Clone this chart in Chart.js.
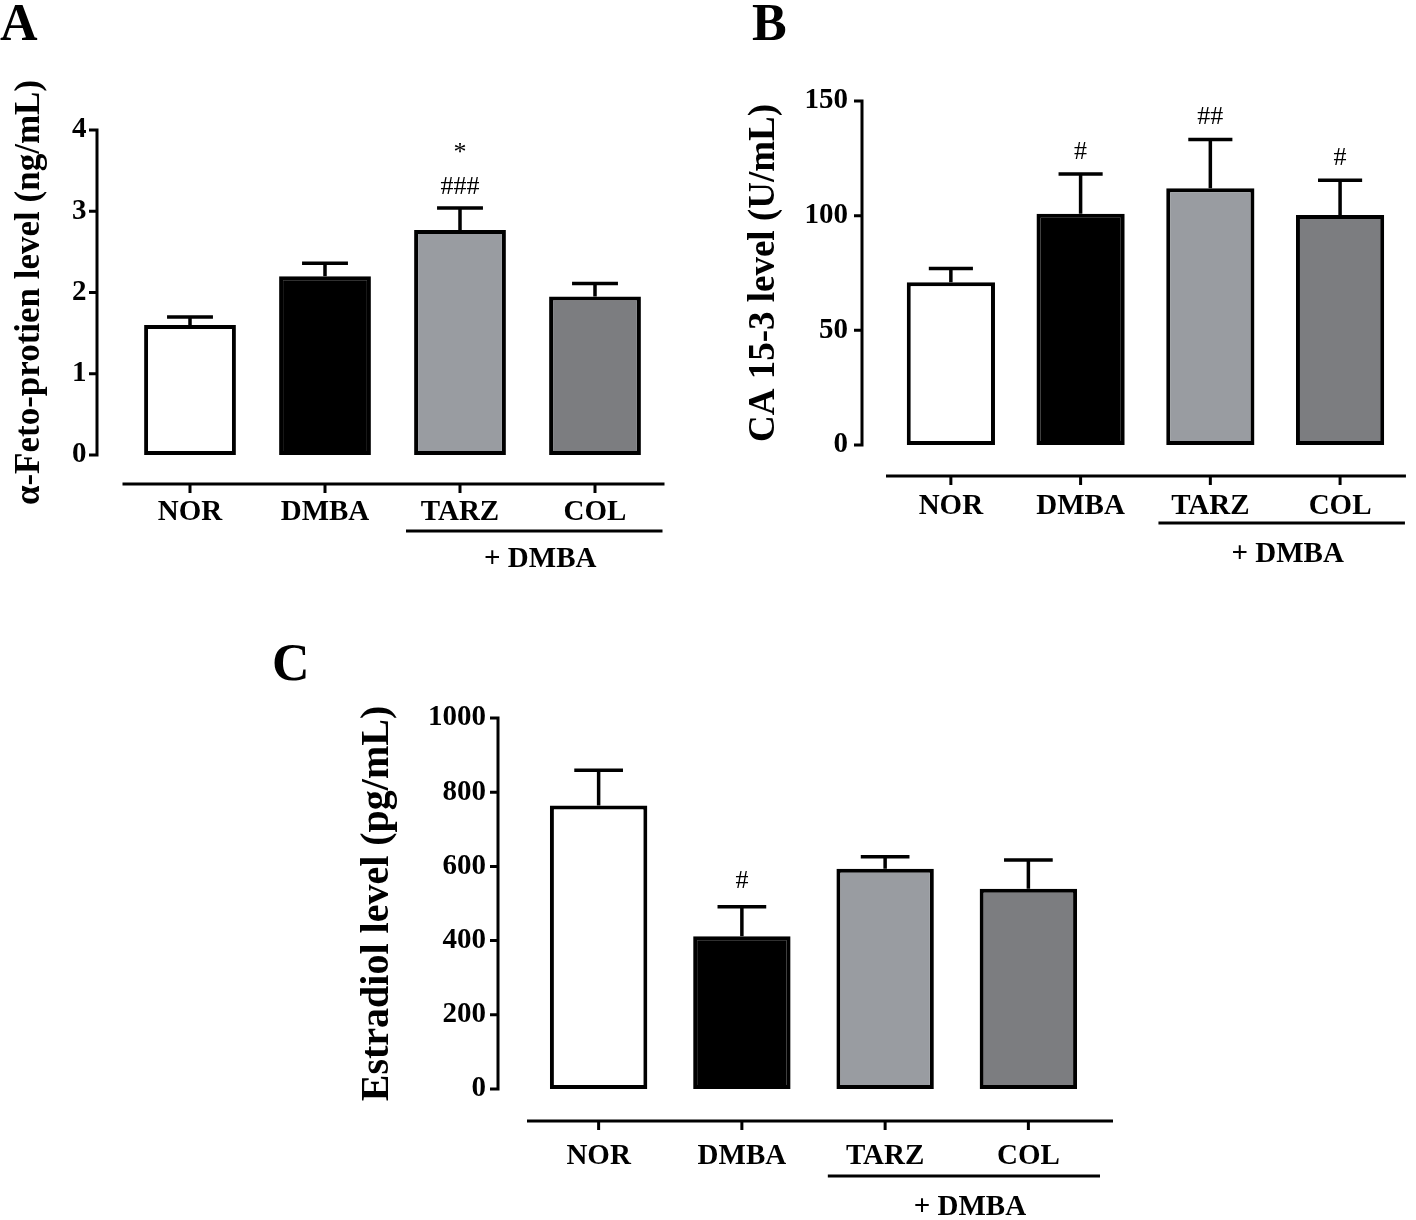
<!DOCTYPE html>
<html>
<head>
<meta charset="utf-8">
<script src="https://cdn.jsdelivr.net/npm/chart.js@4.4.1/dist/chart.umd.min.js"></script>
<style>
  body { margin: 0; background: #fff; }
  canvas { position: absolute; left: 0; top: 0; }
</style>
</head>
<body>
<canvas id="chartA" width="1416" height="1220"></canvas>
<canvas id="chartB" width="1416" height="1220"></canvas>
<canvas id="chartC" width="1416" height="1220"></canvas>
<script>
// groups and bar fills
const groups = ['NOR', 'DMBA', 'TARZ', 'COL'];
const barColors = ['#ffffff', '#000000', '#999ca1', '#7c7d80'];

// A: alpha-fetoprotein (ng/mL), mean and SEM
const afpMean = [1.60, 2.20, 2.77, 1.95];
const afpSem = [0.10, 0.16, 0.27, 0.16];
const afpMarks = [[], [], ['###', '*'], []];

// B: CA 15-3 (U/mL)
const caMean = [71, 100.8, 112, 100.3];
const caSem = [6, 17.4, 21.2, 15.1];
const caMarks = [[], ['#'], ['##'], ['#']];

// C: estradiol (pg/mL)
const e2Mean = [764, 412, 594, 540];
const e2Sem = [95, 79, 32, 77];
const e2Marks = [[], ['#'], [], []];

Chart.defaults.font.family = "'Liberation Serif', 'Times New Roman', serif";
Chart.defaults.color = '#000';

// error bars, offset axes, group underline, markers, panel letter
const deco = {
  id: 'deco',
  afterDatasetsDraw(chart, args, o) {
    const ctx = chart.ctx, y = chart.scales.y;
    const meta = chart.getDatasetMeta(0);
    ctx.save();
    ctx.strokeStyle = '#000';
    ctx.fillStyle = '#000';
    ctx.lineWidth = 3.5;
    meta.data.forEach((bar, i) => {
      const top = y.getPixelForValue(o.mean[i] + o.sem[i]);
      const half = bar.width / 4;
      ctx.beginPath();
      ctx.moveTo(bar.x, bar.y);
      ctx.lineTo(bar.x, top);
      ctx.moveTo(bar.x - half, top);
      ctx.lineTo(bar.x + half, top);
      ctx.stroke();
      ctx.font = '26px "Liberation Serif"';
      ctx.textAlign = 'center';
      ctx.textBaseline = 'middle';
      o.marks[i].forEach((m, k) => ctx.fillText(m, bar.x, top - o.markGap - k * 34));
    });
    ctx.restore();
  },
  afterDraw(chart, args, o) {
    const ctx = chart.ctx, x = chart.scales.x, y = chart.scales.y, a = chart.chartArea;
    ctx.save();
    ctx.strokeStyle = '#000';
    ctx.fillStyle = '#000';
    ctx.lineWidth = 3;
    // y axis, set off to the left
    const ax = a.left - o.yGap;
    ctx.beginPath();
    ctx.moveTo(ax, y.getPixelForValue(y.max) - 1.5);
    ctx.lineTo(ax, y.getPixelForValue(y.min) + 1.5);
    y.ticks.forEach(t => {
      const py = y.getPixelForValue(t.value);
      ctx.moveTo(ax - 8, py);
      ctx.lineTo(ax, py);
    });
    // x axis, set off below
    const ay = a.bottom + o.xGap;
    ctx.moveTo(a.left, ay);
    ctx.lineTo(a.right + o.xExtra, ay);
    groups.forEach((g, i) => {
      const px = x.getPixelForValue(i);
      ctx.moveTo(px, ay);
      ctx.lineTo(px, ay + 9);
    });
    ctx.stroke();
    // "+ DMBA" group
    const band = x.getPixelForValue(1) - x.getPixelForValue(0);
    const ux0 = x.getPixelForValue(2) - 0.4 * band, ux1 = a.right;
    const uy = ay + o.ulGap;
    ctx.beginPath();
    ctx.moveTo(ux0, uy);
    ctx.lineTo(ux1, uy);
    ctx.stroke();
    ctx.font = 'bold 29px "Liberation Serif"';
    ctx.textAlign = 'center';
    ctx.textBaseline = 'middle';
    ctx.fillText('+ DMBA', (ux0 + ux1) / 2 + 6, uy + o.grpGap);
    // panel letter
    ctx.font = 'bold 52px "Liberation Serif"';
    ctx.textAlign = 'left';
    ctx.textBaseline = 'alphabetic';
    ctx.fillText(o.letter, o.letterX, o.letterY);
    ctx.restore();
  }
};

function makePanel(id, p) {
  return new Chart(document.getElementById(id), {
    type: 'bar',
    data: {
      labels: groups,
      datasets: [{
        data: p.mean,
        backgroundColor: barColors,
        borderColor: '#000',
        borderWidth: 4,
        borderSkipped: false,
        categoryPercentage: 1,
        barPercentage: 0.68
      }]
    },
    options: {
      responsive: false,
      animation: false,
      layout: { padding: p.pad },
      plugins: {
        legend: { display: false },
        tooltip: { enabled: false },
        deco: p.deco
      },
      scales: {
        x: {
          offset: true,
          grid: { display: false, drawTicks: false },
          border: { display: false },
          ticks: { font: { size: 29, weight: 'bold' }, padding: p.xPad, maxRotation: 0, autoSkip: false },
          afterFit: s => { s.height = p.xHeight; }
        },
        y: {
          min: p.min, max: p.max,
          grid: { display: false, drawTicks: false },
          border: { display: false },
          ticks: {
            stepSize: p.step, font: { size: 29, weight: 'bold' }, padding: p.yPad,
            callback: v => String(v)
          },
          title: {
            display: true, text: p.title,
            font: { size: p.titleSize, weight: 'bold', lineHeight: 1 },
            padding: { top: p.titlePad, bottom: 0 }
          },
          afterFit: s => { s.width = p.yWidth; }
        }
      }
    },
    plugins: [deco]
  });
}

makePanel('chartA', {
  mean: afpMean, min: 0, max: 4, step: 1,
  title: 'α-Feto-protien level (ng/mL)', titleSize: 35, titlePad: 12.5,
  pad: { left: 0, top: 130, right: 753.5, bottom: 0 },
  yWidth: 122.5, xHeight: 765, yPad: 36, xPad: 40,
  deco: { mean: afpMean, sem: afpSem, marks: afpMarks, markGap: 21, yGap: 25.5, xGap: 29, xExtra: 2,
          ulGap: 47, grpGap: 29, letter: 'A', letterX: 0, letterY: 40 }
});

makePanel('chartB', {
  mean: caMean, min: 0, max: 150, step: 50,
  title: 'CA 15-3 level (U/mL)', titleSize: 37, titlePad: 5.5,
  pad: { left: 740, top: 101, right: 4, bottom: 0 },
  yWidth: 146, xHeight: 775, yPad: 38, xPad: 44,
  deco: { mean: caMean, sem: caSem, marks: caMarks, markGap: 22, yGap: 24, xGap: 31, xExtra: 1,
          ulGap: 47, grpGap: 32, letter: 'B', letterX: 752, letterY: 40 }
});

makePanel('chartC', {
  mean: e2Mean, min: 0, max: 1000, step: 200,
  title: 'Estradiol level (pg/mL)', titleSize: 40, titlePad: 8,
  pad: { left: 350, top: 718, right: 316, bottom: 0 },
  yWidth: 177, xHeight: 131, yPad: 41, xPad: 50,
  deco: { mean: e2Mean, sem: e2Sem, marks: e2Marks, markGap: 26, yGap: 29, xGap: 32, xExtra: 13,
          ulGap: 55, grpGap: 32, letter: 'C', letterX: 272, letterY: 680 }
});
</script>
</body>
</html>
